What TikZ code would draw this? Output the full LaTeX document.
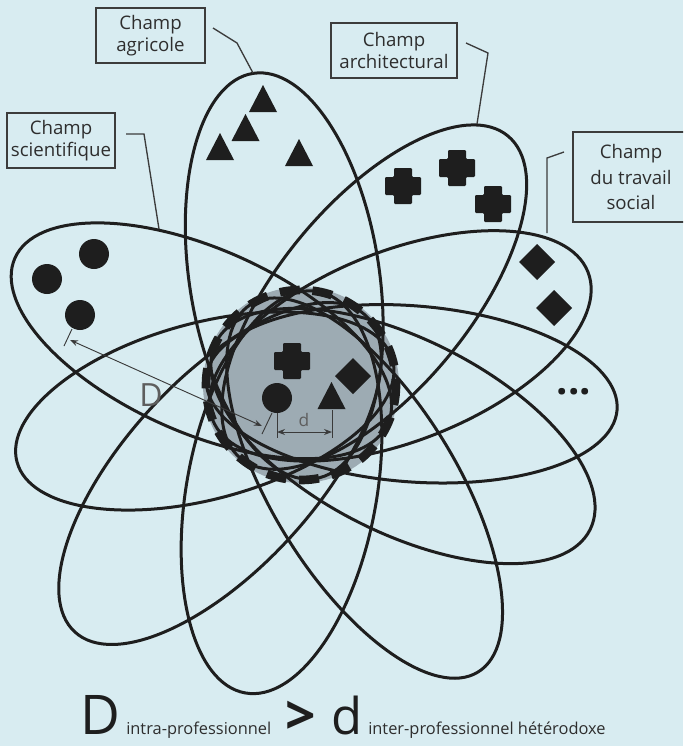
\documentclass[tikz,border=0pt]{standalone}
\usepackage{fontspec}
\setmainfont{Open Sans}
\usetikzlibrary{arrows.meta}
\definecolor{bg}{HTML}{D8ECF1}
\definecolor{disk}{HTML}{9DABB3}
\definecolor{ink}{HTML}{1E1E1E}
\definecolor{boxline}{HTML}{3C3C3C}
\definecolor{txt}{HTML}{2E2E2E}
\definecolor{dimc}{HTML}{3A3A3A}
\definecolor{lab}{HTML}{5E5E5E}
\newcommand\symtri[2]{\fill[ink] (#1,#2-14) -- (#1+14,#2+13) -- (#1-14,#2+13) -- cycle;}
\newcommand\symcross[2]{\fill[ink, rounded corners=0.8pt] (#1-9,#2-18) -- (#1+9,#2-18) -- (#1+9,#2-9) -- (#1+18,#2-9) -- (#1+18,#2+9) -- (#1+9,#2+9) -- (#1+9,#2+18) -- (#1-9,#2+18) -- (#1-9,#2+9) -- (#1-18,#2+9) -- (#1-18,#2-9) -- (#1-9,#2-9) -- cycle;}
\newcommand\symdia[2]{\fill[ink] (#1,#2-18) -- (#1+18,#2) -- (#1,#2+18) -- (#1-18,#2) -- cycle;}
\newcommand\symdot[2]{\fill[ink] (#1,#2) circle [radius=15];}
\begin{document}
\begin{tikzpicture}[x=0.75pt,y=-0.75pt,
  petal/.style={draw=ink, line width=2.25pt},
  box/.style={draw=boxline, line width=1pt, text=txt, align=center, inner sep=0pt,
    font=\fontsize{14}{16.5}\selectfont},
  leader/.style={draw=boxline, line width=1pt},
  dimline/.style={draw=dimc, line width=0.7pt},
  dimarrow/.style={dimline, {Stealth[length=6pt,width=4.5pt]}-{Stealth[length=6pt,width=4.5pt]}},
  small/.style={text=txt, inner sep=0pt, font=\fontsize{12.3}{14}\selectfont},
]
\useasboundingbox (0,0) rectangle (683,746);
\clip (0,0) rectangle (683,746);
\fill[bg] (0,0) rectangle (683,746);

% central zone
\coordinate (ctr) at (301,385);
\fill[disk] (ctr) circle [radius=98];

% petals (fields)
\foreach \mx/\my/\a/\b/\t in {
  284.2/276/205/95/98.7,
  374.2/297.1/209.4/95/50.3,
  400.3/345.9/201.7/95/21.5,
  411.7/393.8/206/88/-4.5,
  403/436/209.2/97/-26.6,
  364.6/488.1/216.1/92/-58.3,
  281.5/492.2/204/95/-100.3,
  220/473.5/214.9/95/-132.5,
  204.8/411/194.6/88/195.2,
  201.4/340.8/204/92/156.1}
  \draw[petal, rotate around={\t:(\mx,\my)}] (\mx,\my) ellipse [x radius=\a, y radius=\b];

% dashed border of the central zone
\draw[ink, line width=6.5pt, dash pattern=on 15pt off 9.6pt] (ctr) circle [radius=95];

% symbols
\symtri{263}{99}\symtri{245.5}{128}\symtri{220}{147}\symtri{299}{153}
\symcross{403}{186}\symcross{457}{168}\symcross{493}{204}
\symdot{94}{254}\symdot{47}{279}\symdot{80}{315}
\symdia{537}{262}\symdia{554}{308}
% central symbols
\symcross{292}{361}
\symdia{353}{376}
\symdot{277}{398}
\symtri{331.5}{396}
\node[text=ink, inner sep=0pt, font=\fontsize{30}{30}\selectfont\bfseries] (dots) at (574,392) {...};

% D dimension
\coordinate (Dfar) at (70,340);
\coordinate (Dnear) at (262,426);
\coordinate (e1a) at (72,329);
\coordinate (e1b) at (64,346);
\coordinate (e2a) at (272,413);
\coordinate (e2b) at (262,434);
\draw[dimline] (e1a) -- (e1b);
\draw[dimline] (e2a) -- (e2b);
\draw[dimarrow] (Dfar) -- (Dnear);
\node[text=lab, inner sep=0pt, font=\fontsize{24}{24}\selectfont] (Dlab) at (151,395) {D};

% d dimension
\coordinate (d1a) at (277,413);
\coordinate (d1b) at (277,438);
\coordinate (d2a) at (332,410);
\coordinate (d2b) at (332,438);
\coordinate (da) at (277,432);
\coordinate (db) at (332,432);
\draw[dimline] (d1a) -- (d1b);
\draw[dimline] (d2a) -- (d2b);
\draw[dimarrow] (da) -- (db);
\node[text=lab, inner sep=0pt, font=\fontsize{13}{13}\selectfont] (dlab) at (304,420) {d};

% label boxes
\node[box, minimum width=81.75pt, minimum height=41.25pt] (agri) at (150.5,35.5) {Champ\\agricole};
\node[box, minimum width=94.5pt, minimum height=41.25pt] (archi) at (394,50.5) {Champ\\architectural};
\node[box, minimum width=81pt, minimum height=41.25pt] (sci) at (61,140.5) {Champ\\scientifique};
\node[box, minimum width=87pt, minimum height=67.5pt, font=\fontsize{14}{19}\selectfont] (trav) at (631,177) {Champ\\du travail\\social};

% leaders
\coordinate (agriA) at (213,28);
\coordinate (agriB) at (237,43);
\coordinate (agriT) at (253,73);
\coordinate (archA) at (466,43);
\coordinate (archB) at (488,53);
\coordinate (archT) at (477,124);
\coordinate (sciA) at (126,134);
\coordinate (sciB) at (144,134);
\coordinate (sciT) at (159,229);
\coordinate (travA) at (564,152);
\coordinate (travB) at (547,158);
\coordinate (travT) at (547,233);
\draw[leader] (agriA) -- (agriB) -- (agriT);
\draw[leader] (archA) -- (archB) -- (archT);
\draw[leader] (sciA) -- (sciB) -- (sciT);
\draw[leader] (travA) -- (travB) -- (travT);

% formula
\node[anchor=base, text=ink, inner sep=0pt, font=\fontsize{41}{41}\selectfont] (bigD) at (100,734) {D};
\node[small, anchor=base west] (intra) at (126,734) {intra-professionnel};
\node[text=ink, inner sep=0pt, font=\fontsize{40}{40}\selectfont\bfseries] (gt) at (301,718) {>};
\node[anchor=base, text=ink, inner sep=0pt, font=\fontsize{38}{38}\selectfont] (smalld) at (347,734) {d};
\node[small, anchor=base west] (inter) at (368,734) {inter-professionnel hétérodoxe};
\end{tikzpicture}
\end{document}
